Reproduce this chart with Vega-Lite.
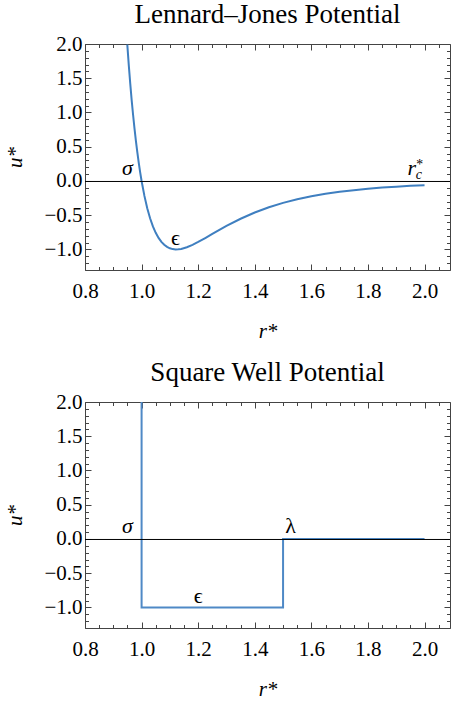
{
  "$schema": "https://vega.github.io/schema/vega-lite/v6.json",
  "padding": {"left": 4, "top": 0, "right": 0, "bottom": 0},
  "spacing": 16,
  "config": {
    "font": "Liberation Serif",
    "view": {"stroke": "#444", "strokeWidth": 1},
    "title": {"font": "Liberation Serif", "fontSize": 27, "fontWeight": "normal", "color": "black", "offset": 4},
    "text": {"font": "Liberation Serif"},
    "axis": {
      "domain": false, "grid": false,
      "labelFont": "Liberation Serif", "labelFontSize": 21, "labelColor": "black",
      "labelFlush": false, "labelOverlap": false, "labelBound": false,
      "tickColor": "#444", "tickWidth": 1,
      "titleFont": "Liberation Serif", "titleFontSize": 21, "titleFontStyle": "italic", "titleFontWeight": "normal", "titleColor": "black"
    }
  },
  "datasets": {
    "lj": [
      {"r": 0.9495, "u": 1.991}, {"r": 0.955, "u": 1.676}, {"r": 0.96, "u": 1.418}, {"r": 0.965, "u": 1.178},
      {"r": 0.97, "u": 0.963}, {"r": 0.975, "u": 0.765}, {"r": 0.98, "u": 0.582}, {"r": 0.985, "u": 0.417},
      {"r": 0.99, "u": 0.264}, {"r": 0.995, "u": 0.126}, {"r": 1.0, "u": 0.0}, {"r": 1.01, "u": -0.218},
      {"r": 1.02, "u": -0.398}, {"r": 1.03, "u": -0.544}, {"r": 1.04, "u": -0.663}, {"r": 1.05, "u": -0.757},
      {"r": 1.06, "u": -0.832}, {"r": 1.07, "u": -0.889}, {"r": 1.08, "u": -0.932}, {"r": 1.09, "u": -0.963},
      {"r": 1.10, "u": -0.983}, {"r": 1.11, "u": -0.995}, {"r": 1.12, "u": -1.0}, {"r": 1.13, "u": -0.998},
      {"r": 1.14, "u": -0.992}, {"r": 1.16, "u": -0.968}, {"r": 1.18, "u": -0.933}, {"r": 1.20, "u": -0.891},
      {"r": 1.225, "u": -0.834}, {"r": 1.25, "u": -0.774}, {"r": 1.275, "u": -0.715}, {"r": 1.30, "u": -0.657},
      {"r": 1.35, "u": -0.552}, {"r": 1.40, "u": -0.461}, {"r": 1.45, "u": -0.384}, {"r": 1.50, "u": -0.320},
      {"r": 1.55, "u": -0.268}, {"r": 1.60, "u": -0.224}, {"r": 1.65, "u": -0.188}, {"r": 1.70, "u": -0.159},
      {"r": 1.75, "u": -0.134}, {"r": 1.80, "u": -0.114}, {"r": 1.85, "u": -0.097}, {"r": 1.90, "u": -0.083},
      {"r": 1.95, "u": -0.071}, {"r": 2.0, "u": -0.0615}
    ],
    "sw": [
      {"i": 0, "r": 1.0, "u": 2.0}, {"i": 1, "r": 1.0, "u": -1.0}, {"i": 2, "r": 1.5, "u": -1.0},
      {"i": 3, "r": 1.5, "u": 0.0}, {"i": 4, "r": 2.0, "u": 0.0}
    ],
    "ljItalic": [{"t": "σ", "x": 0.95, "y": 0.08}, {"t": "r", "x": 1.955, "y": 0.08}],
    "ljUpright": [{"t": "ϵ", "x": 1.12, "y": -0.94}],
    "ljSmall": [{"t": "c", "x": 1.98, "y": 0.03}, {"t": "*", "x": 1.98, "y": 0.17}],
    "swItalic": [{"t": "σ", "x": 0.95, "y": 0.08}],
    "swUpright": [{"t": "λ", "x": 1.527, "y": 0.08}, {"t": "ϵ", "x": 1.2, "y": -0.935}],
    "zero": [{"v": 0}]
  },
  "vconcat": [
    {
      "title": "Lennard–Jones Potential",
      "width": 365, "height": 226,
      "resolve": {"axis": {"x": "independent", "y": "independent"}},
      "layer": [
        {
          "data": {"name": "lj"},
          "mark": {"type": "line", "color": "#3f7fc0", "strokeWidth": 2, "clip": true},
          "encoding": {
            "x": {"field": "r", "type": "quantitative", "scale": {"domain": [0.8, 2.09], "nice": false, "zero": false},
              "axis": {"orient": "bottom", "title": "r*", "titlePadding": 17, "labelPadding": 16, "labelFont": "Liberation Serif",
                "values": [0.8,0.85,0.9,0.95,1.0,1.05,1.1,1.15,1.2,1.25,1.3,1.35,1.4,1.45,1.5,1.55,1.6,1.65,1.7,1.75,1.8,1.85,1.9,1.95,2.0,2.05],
                "labelExpr": "abs(datum.value*5 - round(datum.value*5)) < 0.001 ? format(datum.value, '.1f') : ''",
                "tickSize": {"condition": {"test": "abs(datum.value*5 - round(datum.value*5)) < 0.001", "value": -6}, "value": -3.5}}},
            "y": {"field": "u", "type": "quantitative", "scale": {"domain": [-1.3, 2.0], "nice": false, "zero": false},
              "axis": {"orient": "left", "title": "u*", "titlePadding": 18, "labelPadding": 9, "labelFont": "Liberation Serif",
                "values": [-1.3,-1.2,-1.1,-1.0,-0.9,-0.8,-0.7,-0.6,-0.5,-0.4,-0.3,-0.2,-0.1,0,0.1,0.2,0.3,0.4,0.5,0.6,0.7,0.8,0.9,1.0,1.1,1.2,1.3,1.4,1.5,1.6,1.7,1.8,1.9,2.0],
                "labelExpr": "abs(datum.value*2 - round(datum.value*2)) < 0.001 ? format(datum.value, '.1f') : ''",
                "tickSize": {"condition": {"test": "abs(datum.value*2 - round(datum.value*2)) < 0.001", "value": -6}, "value": -3.5}}}
          }
        },
        {
          "data": {"name": "zero"},
          "mark": {"type": "rule", "color": "black", "strokeWidth": 1, "yOffset": 0.5},
          "encoding": {"y": {"field": "v", "type": "quantitative", "axis": null}}
        },
        {
          "data": {"name": "ljItalic"},
          "mark": {"type": "text", "fontSize": 22, "fontStyle": "italic", "align": "center", "baseline": "alphabetic", "color": "black"},
          "encoding": {
            "text": {"field": "t"},
            "x": {"field": "x", "type": "quantitative",
              "axis": {"orient": "top", "title": null, "labels": false,
                "values": [0.8,0.85,0.9,0.95,1.0,1.05,1.1,1.15,1.2,1.25,1.3,1.35,1.4,1.45,1.5,1.55,1.6,1.65,1.7,1.75,1.8,1.85,1.9,1.95,2.0,2.05],
                "tickSize": {"condition": {"test": "abs(datum.value*5 - round(datum.value*5)) < 0.001", "value": -6}, "value": -3.5}}},
            "y": {"field": "y", "type": "quantitative",
              "axis": {"orient": "right", "title": null, "labels": false,
                "values": [-1.3,-1.2,-1.1,-1.0,-0.9,-0.8,-0.7,-0.6,-0.5,-0.4,-0.3,-0.2,-0.1,0,0.1,0.2,0.3,0.4,0.5,0.6,0.7,0.8,0.9,1.0,1.1,1.2,1.3,1.4,1.5,1.6,1.7,1.8,1.9,2.0],
                "tickSize": {"condition": {"test": "abs(datum.value*2 - round(datum.value*2)) < 0.001", "value": -6}, "value": -3.5}}}
          }
        },
        {
          "data": {"name": "ljUpright"},
          "mark": {"type": "text", "fontSize": 22, "align": "center", "baseline": "alphabetic", "color": "black"},
          "encoding": {
            "text": {"field": "t"},
            "x": {"field": "x", "type": "quantitative", "axis": null},
            "y": {"field": "y", "type": "quantitative", "axis": null}
          }
        },
        {
          "data": {"name": "ljSmall"},
          "mark": {"type": "text", "fontSize": 14, "fontStyle": "italic", "align": "center", "baseline": "alphabetic", "color": "black"},
          "encoding": {
            "text": {"field": "t"},
            "x": {"field": "x", "type": "quantitative", "axis": null},
            "y": {"field": "y", "type": "quantitative", "axis": null}
          }
        }
      ]
    },
    {
      "title": "Square Well Potential",
      "width": 365, "height": 226,
      "resolve": {"axis": {"x": "independent", "y": "independent"}},
      "layer": [
        {
          "data": {"name": "sw"},
          "mark": {"type": "line", "color": "#4f89c6", "strokeWidth": 2, "clip": true},
          "encoding": {
            "order": {"field": "i", "type": "quantitative"},
            "x": {"field": "r", "type": "quantitative", "scale": {"domain": [0.8, 2.09], "nice": false, "zero": false},
              "axis": {"orient": "bottom", "title": "r*", "titlePadding": 17, "labelPadding": 16, "labelFont": "Liberation Serif",
                "values": [0.8,0.85,0.9,0.95,1.0,1.05,1.1,1.15,1.2,1.25,1.3,1.35,1.4,1.45,1.5,1.55,1.6,1.65,1.7,1.75,1.8,1.85,1.9,1.95,2.0,2.05],
                "labelExpr": "abs(datum.value*5 - round(datum.value*5)) < 0.001 ? format(datum.value, '.1f') : ''",
                "tickSize": {"condition": {"test": "abs(datum.value*5 - round(datum.value*5)) < 0.001", "value": -6}, "value": -3.5}}},
            "y": {"field": "u", "type": "quantitative", "scale": {"domain": [-1.3, 2.0], "nice": false, "zero": false},
              "axis": {"orient": "left", "title": "u*", "titlePadding": 18, "labelPadding": 9, "labelFont": "Liberation Serif",
                "values": [-1.3,-1.2,-1.1,-1.0,-0.9,-0.8,-0.7,-0.6,-0.5,-0.4,-0.3,-0.2,-0.1,0,0.1,0.2,0.3,0.4,0.5,0.6,0.7,0.8,0.9,1.0,1.1,1.2,1.3,1.4,1.5,1.6,1.7,1.8,1.9,2.0],
                "labelExpr": "abs(datum.value*2 - round(datum.value*2)) < 0.001 ? format(datum.value, '.1f') : ''",
                "tickSize": {"condition": {"test": "abs(datum.value*2 - round(datum.value*2)) < 0.001", "value": -6}, "value": -3.5}}}
          }
        },
        {
          "data": {"name": "zero"},
          "mark": {"type": "rule", "color": "black", "strokeWidth": 1, "yOffset": 0.5},
          "encoding": {"y": {"field": "v", "type": "quantitative", "axis": null}}
        },
        {
          "data": {"name": "swItalic"},
          "mark": {"type": "text", "fontSize": 22, "fontStyle": "italic", "align": "center", "baseline": "alphabetic", "color": "black"},
          "encoding": {
            "text": {"field": "t"},
            "x": {"field": "x", "type": "quantitative",
              "axis": {"orient": "top", "title": null, "labels": false,
                "values": [0.8,0.85,0.9,0.95,1.0,1.05,1.1,1.15,1.2,1.25,1.3,1.35,1.4,1.45,1.5,1.55,1.6,1.65,1.7,1.75,1.8,1.85,1.9,1.95,2.0,2.05],
                "tickSize": {"condition": {"test": "abs(datum.value*5 - round(datum.value*5)) < 0.001", "value": -6}, "value": -3.5}}},
            "y": {"field": "y", "type": "quantitative",
              "axis": {"orient": "right", "title": null, "labels": false,
                "values": [-1.3,-1.2,-1.1,-1.0,-0.9,-0.8,-0.7,-0.6,-0.5,-0.4,-0.3,-0.2,-0.1,0,0.1,0.2,0.3,0.4,0.5,0.6,0.7,0.8,0.9,1.0,1.1,1.2,1.3,1.4,1.5,1.6,1.7,1.8,1.9,2.0],
                "tickSize": {"condition": {"test": "abs(datum.value*2 - round(datum.value*2)) < 0.001", "value": -6}, "value": -3.5}}}
          }
        },
        {
          "data": {"name": "swUpright"},
          "mark": {"type": "text", "fontSize": 22, "align": "center", "baseline": "alphabetic", "color": "black"},
          "encoding": {
            "text": {"field": "t"},
            "x": {"field": "x", "type": "quantitative", "axis": null},
            "y": {"field": "y", "type": "quantitative", "axis": null}
          }
        }
      ]
    }
  ]
}
